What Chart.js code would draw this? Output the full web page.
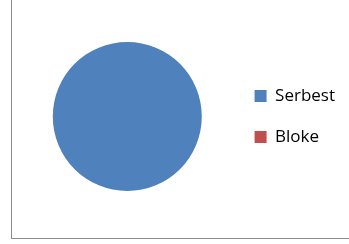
<!DOCTYPE html>
<html><head><meta charset="utf-8">
<script src="https://cdn.jsdelivr.net/npm/chart.js@4"></script>
<style>
html,body{margin:0;padding:0;background:#fff;overflow:hidden;}
#frame{position:absolute;left:11px;top:-2px;width:345px;height:240px;border-left:1px solid #8c8c8c;border-bottom:1px solid #8c8c8c;}
#wrap{position:absolute;left:0;top:0;width:349px;height:244px;}
</style></head><body>
<div id="frame"></div>
<div id="wrap"><canvas id="c" width="349" height="244"></canvas></div>
<script>
const categories = ["Serbest", "Bloke"];
const values = [100, 0];
const colors = ["#4F81BD", "#C0504D"];
new Chart(document.getElementById('c'), {
  type: 'pie',
  data: { labels: categories, datasets: [{ data: values, backgroundColor: colors, borderWidth: 0 }] },
  options: {
    responsive: false, animation: false,
    layout: { padding: { top: 42, bottom: 53, left: 24, right: 4 } },
    plugins: {
      tooltip: { enabled: false },
      legend: {
        position: 'right',
        labels: { boxWidth: 12, boxHeight: 12, padding: 24, color: '#000', font: { family: 'Open Sans', size: 17 } }
      }
    }
  }
});
</script></body></html>
